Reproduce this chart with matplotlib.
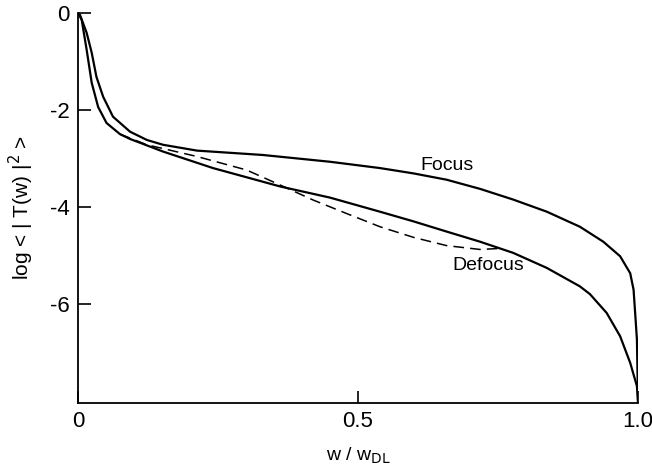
import matplotlib.pyplot as plt

# values
focus_x = [0.0, 0.0036, 0.0155, 0.0245, 0.033, 0.045, 0.0625, 0.093, 0.123, 0.152,
           0.2125, 0.33, 0.45, 0.539, 0.599, 0.658, 0.718, 0.777, 0.837, 0.896,
           0.938, 0.968, 0.986, 0.992, 0.995, 0.998, 1.0]
focus_y = [0.0, -0.04, -0.41, -0.82, -1.32, -1.73, -2.14, -2.45, -2.62, -2.72,
           -2.84, -2.93, -3.07, -3.20, -3.31, -3.44, -3.63, -3.85, -4.10, -4.41,
           -4.72, -5.02, -5.37, -5.71, -6.22, -6.74, -8.04]

defocus_x = [0.0, 0.0066, 0.0155, 0.0245, 0.036, 0.051, 0.075, 0.093, 0.152, 0.241,
             0.361, 0.45, 0.539, 0.599, 0.658, 0.718, 0.777, 0.837, 0.896, 0.914,
             0.944, 0.968, 0.986, 0.998, 1.0]
defocus_y = [0.0, -0.14, -0.76, -1.44, -1.94, -2.27, -2.50, -2.60, -2.86, -3.20,
             -3.58, -3.81, -4.10, -4.30, -4.51, -4.72, -4.95, -5.26, -5.64, -5.80,
             -6.19, -6.67, -7.22, -7.70, -8.04]

dashed_x = [0.075, 0.123, 0.212, 0.301, 0.361, 0.42, 0.48, 0.539, 0.599, 0.658,
            0.718, 0.751]
dashed_y = [-2.50, -2.72, -2.96, -3.24, -3.55, -3.86, -4.14, -4.41, -4.63, -4.80,
            -4.88, -4.86]

x_ticks = [0, 0.5, 1.0]
x_labels = ["0", "0.5", "1.0"]
y_ticks = [0, -2, -4, -6]
y_labels = ["0", "-2", "-4", "-6"]

plt.rcParams['font.family'] = ['Liberation Sans', 'DejaVu Sans']

fig = plt.figure(figsize=(6.52, 4.72), dpi=100)
ax = fig.add_axes([0.1196, 0.147, 0.859, 0.8255])

ax.plot(focus_x, focus_y, color='black', lw=1.6, solid_joinstyle='round')
ax.plot(defocus_x, defocus_y, color='black', lw=1.6, solid_joinstyle='round')
ax.plot(dashed_x, dashed_y, color='black', lw=1.1, dashes=(7, 4))

ax.text(0.659, -3.15, "Focus", fontsize=14, ha='center', va='center')
ax.text(0.732, -5.22, "Defocus", fontsize=14, ha='center', va='center')

ax.set_xlim(0, 1.0)
ax.set_ylim(-8.04, 0)
ax.set_xticks(x_ticks)
ax.set_xticklabels(x_labels)
ax.set_yticks(y_ticks)
ax.set_yticklabels(y_labels)
ax.tick_params(direction='in', length=9, width=1.2, labelsize=16, pad=6)

for side in ['top', 'right']:
    ax.spines[side].set_visible(False)
for side in ['left', 'bottom']:
    ax.spines[side].set_linewidth(1.3)

ax.set_xlabel("w / w$_{\\mathrm{DL}}$", fontsize=14, labelpad=10)
ax.set_ylabel("log < | T(w) |$^{2}$ >", fontsize=15, labelpad=10)

fig.savefig("out.png", dpi=100)
